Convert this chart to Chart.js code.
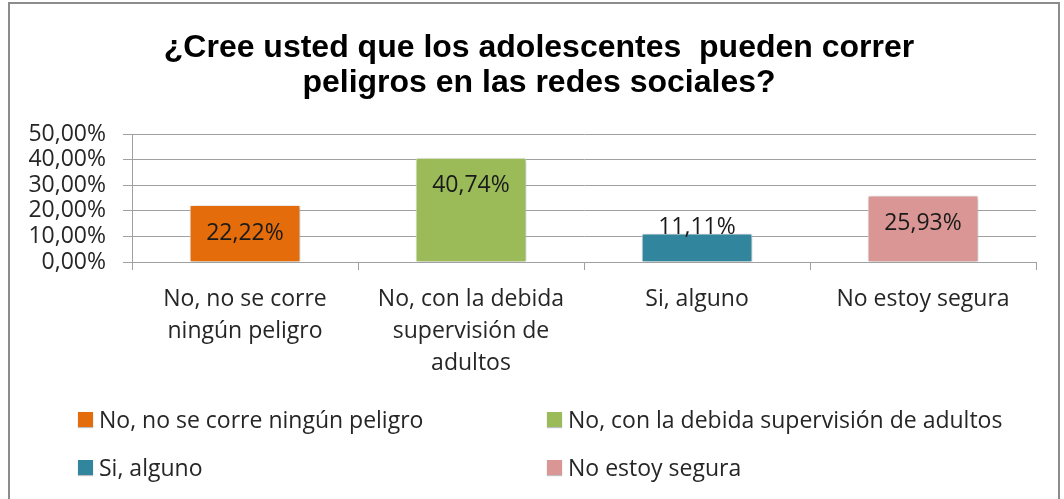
<!DOCTYPE html>
<html>
<head>
<meta charset="utf-8">
<script src="https://cdn.jsdelivr.net/npm/chart.js@4"></script>
<style>
  html, body { margin: 0; padding: 0; background: #fff; }
  #wrap { position: relative; width: 1064px; height: 499px; overflow: hidden; }
  #frame { position: absolute; left: 8px; top: 2px; width: 1052px; height: 520px; border: 2px solid #8c8c8c; box-sizing: border-box; }
  #chart { position: absolute; left: 0; top: 0; }
  #legend { position: absolute; left: 78px; top: 406px; display: grid; grid-template-columns: 469px 469px; grid-auto-rows: 48px;
            font-family: 'Open Sans', sans-serif; font-size: 23px; color: #262626; }
  .item { display: flex; align-items: center; height: 26px; }
  .box { width: 15px; height: 15px; margin-right: 6px; box-shadow: 0 1px 1px rgba(0,0,0,0.25); }
</style>
</head>
<body>
<div id="wrap">
  <div id="frame"></div>
  <canvas id="chart" width="1064" height="499"></canvas>
  <div id="legend"></div>
</div>
<script>
// Datos
const titulo = ['¿Cree usted que los adolescentes  pueden correr', 'peligros en las redes sociales?'];
const categorias = ['No, no se corre ningún peligro', 'No, con la debida supervisión de adultos', 'Si, alguno', 'No estoy segura'];
const etiquetasEje = [
    ['No, no se corre', 'ningún peligro'],
    ['No, con la debida', 'supervisión de', 'adultos'],
    ['Si, alguno'],
    ['No estoy segura']
];
const porcentajes = [22.22, 40.74, 11.11, 25.93];
const colores = ['#e46c0a', '#9bbb59', '#31859c', '#d99694'];

const fmt = v => v.toFixed(2).replace('.', ',') + '%';
const FUENTE = "'Open Sans', sans-serif";

// Leyenda en dos columnas
const legendEl = document.getElementById('legend');
categorias.forEach((c, i) => {
    const it = document.createElement('div');
    it.className = 'item';
    it.innerHTML = `<span class="box" style="background:${colores[i]}"></span><span>${c}</span>`;
    legendEl.appendChild(it);
});

// Título centrado un poco a la derecha del lienzo, como en el original
const tituloPlugin = {
    id: 'tituloPlugin',
    afterDraw(chart) {
        const ctx = chart.ctx;
        ctx.save();
        ctx.font = "bold 32px 'Liberation Sans', Arial, sans-serif";
        ctx.fillStyle = '#000';
        ctx.textAlign = 'center';
        ctx.textBaseline = 'middle';
        titulo.forEach((t, i) => ctx.fillText(t, 539, 48 + i * 35));
        ctx.restore();
    }
};

// Etiquetas de valor sobre/dentro de cada barra
const etiquetasBarras = {
    id: 'etiquetasBarras',
    beforeDatasetsDraw(chart) {
        const ctx = chart.ctx;
        ctx.save();
        ctx.shadowColor = 'rgba(0,0,0,0.35)';
        ctx.shadowBlur = 4;
        ctx.shadowOffsetX = 1;
        ctx.shadowOffsetY = 1;
    },
    afterDatasetsDraw(chart) {
        const ctx = chart.ctx;
        ctx.restore();
        ctx.save();
        ctx.font = '23px ' + FUENTE;
        ctx.fillStyle = '#1a1a1a';
        ctx.textAlign = 'center';
        ctx.textBaseline = 'middle';
        chart.getDatasetMeta(0).data.forEach((bar, i) => {
            const dentro = bar.base - bar.y > 45;
            const y = dentro ? bar.y + 28 : bar.y - 6;
            ctx.fillText(fmt(porcentajes[i]), bar.x, y);
        });
        ctx.restore();
    }
};

new Chart(document.getElementById('chart'), {
    type: 'bar',
    data: {
        labels: etiquetasEje,
        datasets: [{
            data: porcentajes,
            backgroundColor: colores,
            borderColor: '#ffffff',
            borderWidth: 1,
            barPercentage: 0.49,
            categoryPercentage: 1
        }]
    },
    options: {
        responsive: false,
        animation: false,
        layout: { padding: { left: 14, right: 28, top: 134, bottom: 117 } },
        plugins: {
            legend: { display: false },
            tooltip: { enabled: false },
            title: { display: false }
        },
        scales: {
            x: {
                offset: true,
                grid: { offset: true, drawOnChartArea: false, drawTicks: true, tickLength: 8, color: '#a0a0a0' },
                border: { color: '#a0a0a0' },
                ticks: {
                    color: '#262626',
                    padding: 13,
                    maxRotation: 0,
                    autoSkip: false,
                    font: { family: FUENTE, size: 23, lineHeight: 1.4 }
                },
                afterFit(scale) { scale.height = 120; }
            },
            y: {
                min: 0,
                max: 50,
                ticks: {
                    stepSize: 10,
                    autoSkip: false,
                    color: '#262626',
                    padding: 17,
                    font: { family: FUENTE, size: 23 },
                    callback: v => fmt(v)
                },
                grid: { color: '#a0a0a0', tickLength: 9 },
                border: { color: '#a0a0a0' },
                afterFit(scale) { scale.width = 118; }
            }
        }
    },
    plugins: [etiquetasBarras, tituloPlugin]
});
</script>
</body>
</html>
